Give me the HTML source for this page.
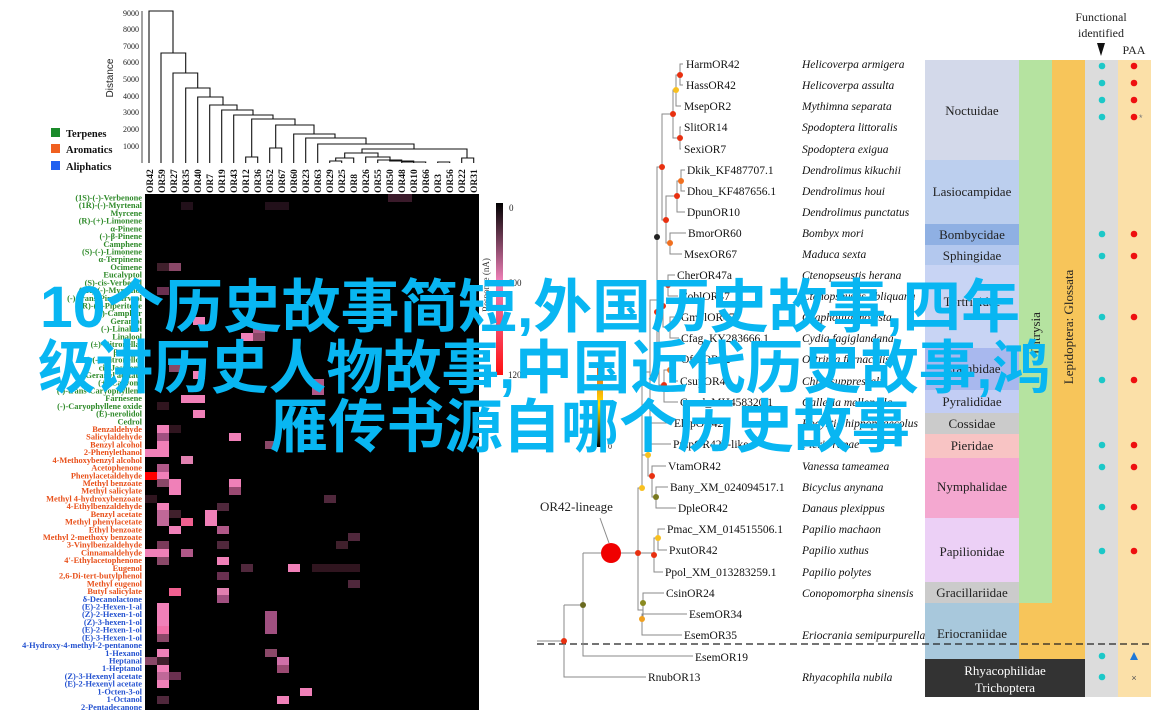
<!DOCTYPE html>
<html><head><meta charset="utf-8"><style>
html,body{margin:0;padding:0;background:#fff;}
svg{display:block;}
.rl{font:bold 8.4px "Liberation Serif",serif;text-anchor:end;}
.g{fill:#2f8a2a}.o{fill:#e8501a}.b{fill:#2452d0}
.cl{font:bold 9.5px "Liberation Serif",serif;}
.lf{font:11.5px "Liberation Serif",serif;fill:#111;}
.sp{font:italic 11.5px "Liberation Serif",serif;fill:#111;}
.fm{font:13px "Liberation Serif",serif;fill:#222;text-anchor:middle;}
.tr{fill:none;stroke:#8a8a8a;stroke-width:1;}
.big{font:bold 58px "Liberation Sans","Noto Sans CJK SC",sans-serif;fill:#08b6f2;}
</style></head><body>
<svg width="1175" height="720" viewBox="0 0 1175 720" xmlns="http://www.w3.org/2000/svg">
<defs>
<linearGradient id="cb1" x1="0" y1="0" x2="0" y2="1"><stop offset="0" stop-color="#000"/><stop offset="0.45" stop-color="#f080b8"/><stop offset="1" stop-color="#ff1010"/></linearGradient>
<linearGradient id="cb2" x1="0" y1="0" x2="0" y2="1"><stop offset="0" stop-color="#e84818"/><stop offset="0.5" stop-color="#ffe000"/><stop offset="1" stop-color="#000"/></linearGradient>
</defs>
<!-- Dendrogram axis -->
<g font-family="Liberation Serif,serif" font-size="8" fill="#222" text-anchor="end">
<line x1="142" y1="11" x2="142" y2="163" stroke="#444"/>
<text x="139" y="16">9000</text><text x="139" y="32">8000</text><text x="139" y="49">7000</text><text x="139" y="65">6000</text><text x="139" y="82">5000</text><text x="139" y="99">4000</text><text x="139" y="115">3000</text><text x="139" y="132">2000</text><text x="139" y="149">1000</text>
</g>
<text transform="translate(113,78) rotate(-90)" font-family="Liberation Sans,sans-serif" font-size="10" text-anchor="middle" fill="#222">Distance</text>
<!-- legend -->
<rect x="51" y="128" width="9" height="9" fill="#1a8a2a"/><rect x="51" y="144" width="9" height="9" fill="#f06020"/><rect x="51" y="161" width="9" height="9" fill="#2060f0"/>
<g font-family="Liberation Serif,serif" font-weight="bold" font-size="10.5" fill="#111"><text x="66" y="137">Terpenes</text><text x="66" y="153">Aromatics</text><text x="66" y="170">Aliphatics</text></g>
<!-- dendrogram -->
<g fill="none" stroke="#111" stroke-width="1.1">
<path d="M149,163 V11 H173 V53"/>
<path d="M161,163 V53 H185.7 V73"/>
<path d="M173,163 V73 H197.7 V88"/>
<path d="M185.7,163 V88 H210 V97"/>
<path d="M197.7,163 V97 H223 V105"/>
<path d="M209.7,163 V105 H237 V110"/>
<path d="M221.7,163 V110 H253 V115"/>
<path d="M233.7,163 V115 H273 V119"/>
<path d="M245.7,163 V157 H257.7 V163 M251.7,157 V119 H295 V125"/>
<path d="M269.7,163 V148 H281.7 V163 M275.7,148 V125 H314 V134"/>
<path d="M293.7,163 V134 H335 V138"/>
<path d="M305.7,163 V138 H366 V144"/>
<path d="M317.7,163 V144 H414 V149"/>
<path d="M329.7,163 V161 H341.7 V163 M335.7,161 V158 H353.7 V163 M344.7,158 V153 H378 V157 M362,153 V149 H467 V158"/>
<path d="M365.7,163 V157 H390 V160 M377.7,163 V160 H401.7 V163 M389.7,160 V161 H413.7 V163 M401.7,161 V162 H425.7 V163 M437.7,163 V162 H449.7 V163"/>
<path d="M461.7,163 V158 H473.7 V163"/>
</g>
<!-- column labels -->
<g class="cl" fill="#111">
<text transform="translate(153,193) rotate(-90)">OR42</text><text transform="translate(165,193) rotate(-90)">OR59</text><text transform="translate(177,193) rotate(-90)">OR27</text><text transform="translate(189,193) rotate(-90)">OR35</text><text transform="translate(201,193) rotate(-90)">OR40</text><text transform="translate(213,193) rotate(-90)">OR7</text><text transform="translate(225,193) rotate(-90)">OR19</text><text transform="translate(237,193) rotate(-90)">OR43</text><text transform="translate(249,193) rotate(-90)">OR12</text><text transform="translate(261,193) rotate(-90)">OR36</text><text transform="translate(273,193) rotate(-90)">OR52</text><text transform="translate(285,193) rotate(-90)">OR67</text><text transform="translate(297,193) rotate(-90)">OR60</text><text transform="translate(309,193) rotate(-90)">OR23</text><text transform="translate(321,193) rotate(-90)">OR63</text><text transform="translate(333,193) rotate(-90)">OR29</text><text transform="translate(345,193) rotate(-90)">OR25</text><text transform="translate(357,193) rotate(-90)">OR8</text><text transform="translate(369,193) rotate(-90)">OR26</text><text transform="translate(381,193) rotate(-90)">OR55</text><text transform="translate(393,193) rotate(-90)">OR50</text><text transform="translate(405,193) rotate(-90)">OR48</text><text transform="translate(417,193) rotate(-90)">OR10</text><text transform="translate(429,193) rotate(-90)">OR66</text><text transform="translate(441,193) rotate(-90)">OR3</text><text transform="translate(453,193) rotate(-90)">OR56</text><text transform="translate(465,193) rotate(-90)">OR22</text><text transform="translate(477,193) rotate(-90)">OR31</text>
</g>
<!-- heatmap -->
<rect x="145" y="194" width="334" height="516" fill="#000"/>
<g>
<rect x="388" y="194" width="24" height="8" fill="#3a1a2a"/>
<rect x="181" y="202" width="12" height="8" fill="#22101a"/><rect x="265" y="202" width="24" height="8" fill="#22101a"/>
<rect x="157" y="263" width="12" height="8" fill="#40202c"/><rect x="169" y="263" width="12" height="8" fill="#8a4868"/>
<rect x="157" y="287" width="12" height="8" fill="#6a3050"/>
<rect x="193" y="317" width="12" height="8" fill="#f080b8"/>
<rect x="253" y="325" width="12" height="8" fill="#b05888"/>
<rect x="241" y="333" width="12" height="8" fill="#f080b8"/><rect x="253" y="333" width="12" height="8" fill="#8a4868"/>
<rect x="169" y="364" width="12" height="8" fill="#8a4868"/>
<rect x="193" y="371" width="12" height="8" fill="#f080b8"/>
<rect x="312" y="379" width="12" height="8" fill="#b05888"/>
<rect x="312" y="387" width="12" height="8" fill="#b05888"/>
<rect x="181" y="395" width="24" height="8" fill="#f080b8"/>
<rect x="157" y="402" width="12" height="8" fill="#30151f"/>
<rect x="193" y="410" width="12" height="8" fill="#f080b8"/>
<rect x="157" y="425" width="12" height="8" fill="#f080b8"/><rect x="169" y="425" width="12" height="8" fill="#30151f"/>
<rect x="157" y="433" width="12" height="8" fill="#a05080"/><rect x="229" y="433" width="12" height="8" fill="#f080b8"/>
<rect x="157" y="441" width="12" height="8" fill="#f080b8"/><rect x="265" y="441" width="12" height="8" fill="#8a4868"/>
<rect x="145" y="449" width="24" height="8" fill="#f080b8"/>
<rect x="181" y="456" width="12" height="8" fill="#e080b0"/>
<rect x="157" y="464" width="12" height="8" fill="#b05888"/>
<rect x="145" y="472" width="12" height="8" fill="#ff0000"/><rect x="157" y="472" width="12" height="8" fill="#f080b8"/>
<rect x="157" y="479" width="12" height="8" fill="#8a4868"/><rect x="169" y="479" width="12" height="8" fill="#f080b8"/><rect x="229" y="479" width="12" height="8" fill="#f080b8"/>
<rect x="169" y="487" width="12" height="8" fill="#f080b8"/><rect x="229" y="487" width="12" height="8" fill="#9a4a72"/>
<rect x="145" y="495" width="12" height="8" fill="#30151f"/><rect x="324" y="495" width="12" height="8" fill="#50283c"/>
<rect x="157" y="503" width="12" height="8" fill="#f080b8"/><rect x="217" y="503" width="12" height="8" fill="#50283c"/>
<rect x="157" y="510" width="12" height="8" fill="#c06898"/><rect x="169" y="510" width="12" height="8" fill="#40202c"/><rect x="205" y="510" width="12" height="8" fill="#f080b8"/>
<rect x="157" y="518" width="12" height="8" fill="#c06898"/><rect x="181" y="518" width="12" height="8" fill="#f06090"/><rect x="205" y="518" width="12" height="8" fill="#f080b8"/>
<rect x="169" y="526" width="12" height="8" fill="#f080b8"/><rect x="217" y="526" width="12" height="8" fill="#b05888"/>
<rect x="348" y="533" width="12" height="8" fill="#50283c"/>
<rect x="157" y="541" width="12" height="8" fill="#7a3a5a"/><rect x="217" y="541" width="12" height="8" fill="#50283c"/><rect x="336" y="541" width="12" height="8" fill="#40202c"/>
<rect x="145" y="549" width="24" height="8" fill="#f080b8"/><rect x="181" y="549" width="12" height="8" fill="#b05888"/>
<rect x="157" y="557" width="12" height="8" fill="#8a4868"/><rect x="217" y="557" width="12" height="8" fill="#f080b8"/>
<rect x="241" y="564" width="12" height="8" fill="#50283c"/><rect x="288" y="564" width="12" height="8" fill="#f080b8"/><rect x="312" y="564" width="48" height="8" fill="#30151f"/>
<rect x="217" y="572" width="12" height="8" fill="#6a3050"/>
<rect x="348" y="580" width="12" height="8" fill="#50283c"/>
<rect x="169" y="588" width="12" height="8" fill="#f06090"/><rect x="217" y="588" width="12" height="8" fill="#e080b0"/>
<rect x="217" y="595" width="12" height="8" fill="#a05080"/>
<rect x="157" y="603" width="12" height="31" fill="#f080b8"/><rect x="157" y="626" width="12" height="8" fill="#f070a8"/>
<rect x="265" y="611" width="12" height="23" fill="#a05080"/>
<rect x="157" y="634" width="12" height="8" fill="#8a4868"/>
<rect x="157" y="649" width="12" height="8" fill="#f080b8"/><rect x="265" y="649" width="12" height="8" fill="#8a4868"/>
<rect x="145" y="657" width="12" height="8" fill="#8a4868"/><rect x="157" y="657" width="12" height="8" fill="#40202c"/><rect x="277" y="657" width="12" height="8" fill="#d070a8"/>
<rect x="157" y="665" width="12" height="8" fill="#f080b8"/><rect x="277" y="665" width="12" height="8" fill="#9a4a72"/>
<rect x="157" y="672" width="12" height="8" fill="#c06898"/><rect x="169" y="672" width="12" height="8" fill="#6a3050"/>
<rect x="157" y="680" width="12" height="8" fill="#f080b8"/>
<rect x="300" y="688" width="12" height="8" fill="#f080b8"/>
<rect x="157" y="696" width="12" height="8" fill="#50283c"/><rect x="277" y="696" width="12" height="8" fill="#f080b8"/>
</g>
<!-- row labels -->
<g class="rl">
<text class="g" x="142" y="200.5">(1S)-(-)-Verbenone</text><text class="g" x="142" y="208.2">(1R)-(-)-Myrtenal</text><text class="g" x="142" y="215.9">Myrcene</text><text class="g" x="142" y="223.6">(R)-(+)-Limonene</text><text class="g" x="142" y="231.4">α-Pinene</text><text class="g" x="142" y="239.1">(-)-β-Pinene</text><text class="g" x="142" y="246.8">Camphene</text><text class="g" x="142" y="254.5">(S)-(-)-Limonene</text><text class="g" x="142" y="262.2">α-Terpinene</text><text class="g" x="142" y="269.9">Ocimene</text><text class="g" x="142" y="277.7">Eucalyptol</text><text class="g" x="142" y="285.4">(S)-cis-Verbenol</text><text class="g" x="142" y="293.1">(1R)-(-)-Myrtenol</text><text class="g" x="142" y="300.8">(-)-trans-Pinocarveol</text><text class="g" x="142" y="308.5">(R)-(-)-Piperitone</text><text class="g" x="142" y="316.2">(-)-Camphor</text><text class="g" x="142" y="324.0">Geraniol</text><text class="g" x="142" y="331.7">(-)-Linalool</text><text class="g" x="142" y="339.4">Linalool</text><text class="g" x="142" y="347.1">(±)-Citronellal</text><text class="g" x="142" y="354.8">β-Citral</text><text class="g" x="142" y="362.5">(-)-Citronellol</text><text class="g" x="142" y="370.3">cis-Jasmone</text><text class="g" x="142" y="378.0">Geranyl acetate</text><text class="g" x="142" y="385.7">(+)-Carvone</text><text class="g" x="142" y="393.4">(-)-trans-Caryophyllene</text><text class="g" x="142" y="401.1">Farnesene</text><text class="g" x="142" y="408.8">(-)-Caryophyllene oxide</text><text class="g" x="142" y="416.6">(E)-nerolidol</text><text class="g" x="142" y="424.3">Cedrol</text>
<text class="o" x="142" y="432.0">Benzaldehyde</text><text class="o" x="142" y="439.7">Salicylaldehyde</text><text class="o" x="142" y="447.4">Benzyl alcohol</text><text class="o" x="142" y="455.1">2-Phenylethanol</text><text class="o" x="142" y="462.9">4-Methoxybenzyl alcohol</text><text class="o" x="142" y="470.6">Acetophenone</text><text class="o" x="142" y="478.3">Phenylacetaldehyde</text><text class="o" x="142" y="486.0">Methyl benzoate</text><text class="o" x="142" y="493.7">Methyl salicylate</text><text class="o" x="142" y="501.4">Methyl 4-hydroxybenzoate</text><text class="o" x="142" y="509.2">4-Ethylbenzaldehyde</text><text class="o" x="142" y="516.9">Benzyl acetate</text><text class="o" x="142" y="524.6">Methyl phenylacetate</text><text class="o" x="142" y="532.3">Ethyl benzoate</text><text class="o" x="142" y="540.0">Methyl 2-methoxy benzoate</text><text class="o" x="142" y="547.7">3-Vinylbenzaldehyde</text><text class="o" x="142" y="555.5">Cinnamaldehyde</text><text class="o" x="142" y="563.2">4'-Ethylacetophenone</text><text class="o" x="142" y="570.9">Eugenol</text><text class="o" x="142" y="578.6">2,6-Di-tert-butylphenol</text><text class="o" x="142" y="586.3">Methyl eugenol</text><text class="o" x="142" y="594.0">Butyl salicylate</text>
<text class="b" x="142" y="601.8">δ-Decanolactone</text><text class="b" x="142" y="609.5">(E)-2-Hexen-1-al</text><text class="b" x="142" y="617.2">(Z)-2-Hexen-1-ol</text><text class="b" x="142" y="624.9">(Z)-3-hexen-1-ol</text><text class="b" x="142" y="632.6">(E)-2-Hexen-1-ol</text><text class="b" x="142" y="640.3">(E)-3-Hexen-1-ol</text><text class="b" x="142" y="648.1">4-Hydroxy-4-methyl-2-pentanone</text><text class="b" x="142" y="655.8">1-Hexanol</text><text class="b" x="142" y="663.5">Heptanal</text><text class="b" x="142" y="671.2">1-Heptanol</text><text class="b" x="142" y="678.9">(Z)-3-Hexenyl acetate</text><text class="b" x="142" y="686.6">(E)-2-Hexenyl acetate</text><text class="b" x="142" y="694.4">1-Octen-3-ol</text><text class="b" x="142" y="702.1">1-Octanol</text><text class="b" x="142" y="709.8">2-Pentadecanone</text>
</g>
<!-- colorbar 1 -->
<rect x="496" y="203" width="7" height="172" fill="url(#cb1)"/>
<g font-family="Liberation Serif,serif" font-size="9" fill="#222"><text x="509" y="211">0</text><text x="508" y="286">600</text><text x="508" y="378">1200</text></g>
<text transform="translate(489,285) rotate(-90)" font-family="Liberation Serif,serif" font-size="9" fill="#333" text-anchor="middle">Response (nA)</text>
<!-- colorbar 2 -->
<rect x="597" y="363" width="6" height="84" fill="url(#cb2)"/>
<text x="608" y="449" font-family="Liberation Serif,serif" font-size="8" fill="#222">0</text>
<!-- right columns -->
<rect x="925" y="60" width="94" height="100" fill="#d3d9ea"/>
<rect x="925" y="160" width="94" height="64" fill="#bccfee"/>
<rect x="925" y="224" width="94" height="21" fill="#8fb0e3"/>
<rect x="925" y="245" width="94" height="20" fill="#b3c8ee"/>
<rect x="925" y="265" width="94" height="83" fill="#c8d4f4"/>
<rect x="925" y="348" width="94" height="42" fill="#a8b8ee"/>
<rect x="925" y="390" width="94" height="23" fill="#c2cdf4"/>
<rect x="925" y="413" width="94" height="21" fill="#cbcbcb"/>
<rect x="925" y="434" width="94" height="24" fill="#f8c4c4"/>
<rect x="925" y="458" width="94" height="60" fill="#f4a8d0"/>
<rect x="925" y="518" width="94" height="64" fill="#ecd0f6"/>
<rect x="925" y="582" width="94" height="21" fill="#cbcbcb"/>
<rect x="925" y="603" width="94" height="56" fill="#a8c8dc"/>
<rect x="1019" y="60" width="33" height="543" fill="#b5e3a0"/>
<rect x="1019" y="603" width="33" height="56" fill="#f7c55a"/>
<rect x="1052" y="60" width="33" height="599" fill="#f7c55a"/>
<rect x="1085" y="60" width="33" height="637" fill="#dcdcdc"/>
<rect x="1118" y="60" width="33" height="637" fill="#fbe0a8"/>
<rect x="925" y="659" width="160" height="38" fill="#333"/>
<g class="fm">
<text x="972" y="115">Noctuidae</text><text x="972" y="196">Lasiocampidae</text><text x="972" y="239">Bombycidae</text><text x="972" y="260">Sphingidae</text><text x="972" y="306">Tortricidae</text><text x="972" y="373">Crambidae</text><text x="972" y="406">Pyralididae</text><text x="972" y="428">Cossidae</text><text x="972" y="450">Pieridae</text><text x="972" y="491">Nymphalidae</text><text x="972" y="556">Papilionidae</text><text x="972" y="597">Gracillariidae</text><text x="972" y="638">Eriocraniidae</text>
<text x="1005" y="675" fill="#fff">Rhyacophilidae</text><text x="1005" y="692" fill="#fff">Trichoptera</text>
</g>
<text transform="translate(1040,333) rotate(-90)" class="fm">Ditrysia</text>
<text transform="translate(1073,327) rotate(-90)" class="fm">Lepidoptera: Glossata</text>
<g font-family="Liberation Serif,serif" font-size="12" fill="#222" text-anchor="middle"><text x="1101" y="21">Functional</text><text x="1101" y="37">identified</text><text x="1134" y="54">PAA</text></g>
<path d="M1097,43 L1105,43 L1101,56 Z" fill="#111"/>
<g fill="#1cc8c8">
<circle cx="1102" cy="66" r="3.3"/><circle cx="1102" cy="83" r="3.3"/><circle cx="1102" cy="100" r="3.3"/><circle cx="1102" cy="117" r="3.3"/><circle cx="1102" cy="234" r="3.3"/><circle cx="1102" cy="256" r="3.3"/><circle cx="1102" cy="317" r="3.3"/><circle cx="1102" cy="380" r="3.3"/><circle cx="1102" cy="445" r="3.3"/><circle cx="1102" cy="467" r="3.3"/><circle cx="1102" cy="507" r="3.3"/><circle cx="1102" cy="551" r="3.3"/><circle cx="1102" cy="656" r="3.3"/><circle cx="1102" cy="677" r="3.3"/>
</g>
<g fill="#ee1010">
<circle cx="1134" cy="66" r="3.3"/><circle cx="1134" cy="83" r="3.3"/><circle cx="1134" cy="100" r="3.3"/><circle cx="1134" cy="117" r="3.3"/><circle cx="1134" cy="234" r="3.3"/><circle cx="1134" cy="256" r="3.3"/><circle cx="1134" cy="317" r="3.3"/><circle cx="1134" cy="380" r="3.3"/><circle cx="1134" cy="445" r="3.3"/><circle cx="1134" cy="467" r="3.3"/><circle cx="1134" cy="507" r="3.3"/><circle cx="1134" cy="551" r="3.3"/>
</g>
<text x="1139" y="121" font-family="Liberation Sans,sans-serif" font-size="9" fill="#777">*</text>
<path d="M1130,660 L1138,660 L1134,652 Z" fill="#1e78d8"/>
<text x="1134" y="681" font-family="Liberation Sans,sans-serif" font-size="9" fill="#555" text-anchor="middle">×</text>
<line x1="537" y1="644" x2="1150" y2="644" stroke="#222" stroke-width="1.2" stroke-dasharray="7,4"/>
<!-- tree -->
<g class="tr">
<path d="M683,64 H680 V85 H683 M680,75 H676 V106 H681 M681,127 H680 V149 H681 M676,90 H673 V138 H680"/>
<path d="M685,170 H681 V191 H685 M681,181 H677 V212 H685 M686,233 H670 V254 H682 M677,196 H666 V243 H670 M673,114 H662 V220 H666"/>
<path d="M675,275 H668 V296 H678 M679,317 H670 V338 H679 M668,285 H663 V327 H670 M679,359 H670 V381 H678 M670,370 H664 V402 H678 M663,306 H659 V385 H664"/>
<path d="M662,167 H657 V345 H659 M657,300 H650 V423 H672"/>
<path d="M668,487 H656 V508 H676 M666,466 H652 V497 H656 M671,444 H648 V476 H652 M650,372 H642 V488 M642,455 H648"/>
<path d="M665,529 H658 V550 H667 M658,538 H654 V572 H663 M642,488 H638 V610 H643 M638,553 H654"/>
<path d="M664,593 H643 V619 M687,614 H642 V635 H682 M583,553 H638"/>
<path d="M583,553 V656 H693 M564,605 H583 M564,605 V677 H646 M537,641 H564 M600,518 L609,543"/>
</g>
<g>
<circle cx="680" cy="75" r="3" fill="#e83010"/><circle cx="676" cy="90" r="3" fill="#f8c020"/><circle cx="680" cy="138" r="3" fill="#e83010"/><circle cx="673" cy="114" r="3" fill="#e83010"/>
<circle cx="681" cy="181" r="3" fill="#f07020"/><circle cx="677" cy="196" r="3" fill="#e83010"/><circle cx="670" cy="243" r="3" fill="#f07020"/><circle cx="666" cy="220" r="3" fill="#e83010"/><circle cx="662" cy="167" r="3" fill="#e83010"/>
<circle cx="657" cy="237" r="3" fill="#222"/><circle cx="657" cy="312" r="3" fill="#e83010"/>
<circle cx="668" cy="285" r="3" fill="#e83010"/><circle cx="670" cy="327" r="3" fill="#e83010"/><circle cx="663" cy="306" r="3" fill="#e83010"/><circle cx="670" cy="370" r="3" fill="#f07020"/><circle cx="664" cy="385" r="3" fill="#e83010"/>
<circle cx="656" cy="497" r="3" fill="#7a7a20"/><circle cx="652" cy="476" r="3" fill="#e83010"/><circle cx="648" cy="455" r="3" fill="#f8c020"/><circle cx="642" cy="488" r="3" fill="#f8c020"/>
<circle cx="658" cy="538" r="3" fill="#f8c020"/><circle cx="654" cy="555" r="3" fill="#e83010"/><circle cx="638" cy="553" r="3" fill="#e83010"/>
<circle cx="643" cy="603" r="3" fill="#8a8a20"/><circle cx="642" cy="619" r="3" fill="#f0a020"/><circle cx="583" cy="605" r="3" fill="#6a6a20"/><circle cx="564" cy="641" r="3" fill="#e83010"/>
<circle cx="611" cy="553" r="10" fill="#f00000"/>
</g>
<text x="540" y="511" font-family="Liberation Serif,serif" font-size="13" fill="#222">OR42-lineage</text>
<g class="lf">
<text x="686" y="68">HarmOR42</text><text x="686" y="89">HassOR42</text><text x="684" y="110">MsepOR2</text><text x="684" y="131">SlitOR14</text><text x="684" y="153">SexiOR7</text><text x="687" y="174">Dkik_KF487707.1</text><text x="687" y="195">Dhou_KF487656.1</text><text x="687" y="216">DpunOR10</text><text x="688" y="237">BmorOR60</text><text x="684" y="258">MsexOR67</text><text x="677" y="279">CherOR47a</text><text x="680" y="300">CoblOR47</text><text x="681" y="321">GmolOR47</text><text x="681" y="342">Cfag_KY283666.1</text><text x="681" y="363">OfurOR42</text><text x="680" y="385">CsupOR42</text><text x="680" y="406">Gmel_MH458320.1</text><text x="674" y="427">EhipOR42</text><text x="673" y="448">PrapOR42b-like</text><text x="668" y="470">VtamOR42</text><text x="670" y="491">Bany_XM_024094517.1</text><text x="678" y="512">DpleOR42</text><text x="667" y="533">Pmac_XM_014515506.1</text><text x="669" y="554">PxutOR42</text><text x="665" y="576">Ppol_XM_013283259.1</text><text x="666" y="597">CsinOR24</text><text x="689" y="618">EsemOR34</text><text x="684" y="639">EsemOR35</text><text x="695" y="661">EsemOR19</text><text x="648" y="681">RnubOR13</text>
</g>
<g class="sp">
<text x="802" y="68">Helicoverpa armigera</text><text x="802" y="89">Helicoverpa assulta</text><text x="802" y="110">Mythimna separata</text><text x="802" y="131">Spodoptera littoralis</text><text x="802" y="153">Spodoptera exigua</text><text x="802" y="174">Dendrolimus kikuchii</text><text x="802" y="195">Dendrolimus houi</text><text x="802" y="216">Dendrolimus punctatus</text><text x="802" y="237">Bombyx mori</text><text x="802" y="258">Maduca sexta</text><text x="802" y="279">Ctenopseustis herana</text><text x="802" y="300">Ctenopseustis obliquana</text><text x="802" y="321">Grapholita molesta</text><text x="802" y="342">Cydia fagiglandana</text><text x="802" y="363">Ostrinia furnacalis</text><text x="802" y="385">Chilo suppressalis</text><text x="802" y="406">Galleria mellonella</text><text x="802" y="427">Eogystia hippophaecolus</text><text x="802" y="448">Pieris rapae</text><text x="802" y="470">Vanessa tameamea</text><text x="802" y="491">Bicyclus anynana</text><text x="802" y="512">Danaus plexippus</text><text x="802" y="533">Papilio machaon</text><text x="802" y="554">Papilio xuthus</text><text x="802" y="576">Papilio polytes</text><text x="802" y="597">Conopomorpha sinensis</text><text x="802" y="639">Eriocrania semipurpurella</text><text x="802" y="681">Rhyacophila nubila</text>
</g>
<!-- overlay title -->
<text class="big" x="40" y="327" textLength="980" lengthAdjust="spacingAndGlyphs">10个历史故事简短,外国历史故事,四年</text>
<text class="big" x="38" y="388" textLength="1012" lengthAdjust="spacingAndGlyphs">级讲历史人物故事,中国近代历史故事,鸿</text>
<text class="big" x="270" y="447" textLength="640" lengthAdjust="spacingAndGlyphs">雁传书源自哪个历史故事</text>
</svg>
</body></html>
